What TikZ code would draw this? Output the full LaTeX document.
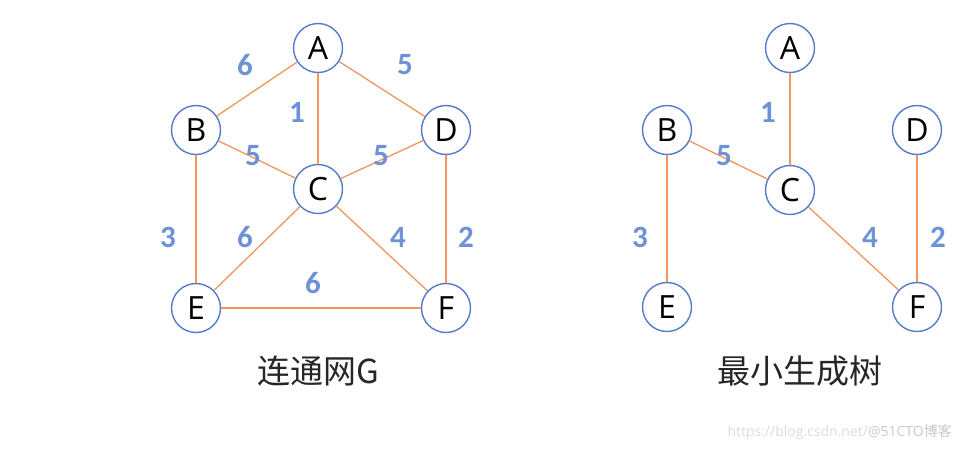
\documentclass[tikz,border=0pt]{standalone}
\usepackage{fontspec}
\setmainfont{Open Sans}
\newfontfamily\numfont{Carlito}
\newfontfamily\cjk{Noto Sans CJK SC}
\definecolor{nodeblue}{RGB}{84,124,204}
\definecolor{edgeorange}{RGB}{242,150,92}
\definecolor{numblue}{RGB}{110,146,214}
\definecolor{wmgray}{RGB}{220,220,220}
\definecolor{wmgray2}{RGB}{200,200,200}
\tikzset{
  vtx/.style={circle, draw=nodeblue, line width=1.4pt, fill=white, minimum size=49pt, inner sep=0pt, font=\fontsize{32}{32}\selectfont},
  edg/.style={draw=edgeorange, line width=1.3pt},
  wt/.style={font=\numfont\bfseries\fontsize{31}{31}\selectfont, text=numblue, inner sep=0pt},
  captxt/.style={font=\cjk\fontsize{33}{33}\selectfont, text=black!85, inner sep=0pt},
}
\begin{document}
\begin{tikzpicture}[x=1pt,y=-1pt]
\useasboundingbox (0,0) rectangle (964,451);
% left graph
\node[vtx] (A) at (318,48) {A};
\node[vtx] (B) at (196,130) {B};
\node[vtx] (D) at (446,130) {D};
\node[vtx] (C) at (318,189) {C};
\node[vtx] (E) at (196,308) {E};
\node[vtx] (F) at (446,308) {F};
\draw[edg] (A) -- (B);
\draw[edg] (A) -- (D);
\draw[edg] (A) -- (C);
\draw[edg] (B) -- (C);
\draw[edg] (D) -- (C);
\draw[edg] (B) -- (E);
\draw[edg] (D) -- (F);
\draw[edg] (C) -- (E);
\draw[edg] (C) -- (F);
\draw[edg] (E) -- (F);
\node[wt] (wAB) at (245,65) {6};
\node[wt] (wAD) at (405,65) {5};
\node[wt] (wAC) at (297,112) {1};
\node[wt] (wBC) at (253,156) {5};
\node[wt] (wDC) at (381,156) {5};
\node[wt] (wBE) at (168,237) {3};
\node[wt] (wCE) at (245,237) {6};
\node[wt] (wCF) at (398,237) {4};
\node[wt] (wDF) at (466,237) {2};
\node[wt] (wEF) at (313,283) {6};
\node[captxt] (capL) at (318,371) {连通网G};
% right graph
\node[vtx] (A2) at (790,48) {A};
\node[vtx] (B2) at (667,130) {B};
\node[vtx] (D2) at (917,130) {D};
\node[vtx] (C2) at (790,190) {C};
\node[vtx] (E2) at (667,307) {E};
\node[vtx] (F2) at (917,307) {F};
\draw[edg] (A2) -- (C2);
\draw[edg] (B2) -- (C2);
\draw[edg] (B2) -- (E2);
\draw[edg] (C2) -- (F2);
\draw[edg] (D2) -- (F2);
\node[wt] (wAC2) at (768,112) {1};
\node[wt] (wBC2) at (724,156) {5};
\node[wt] (wBE2) at (640,237) {3};
\node[wt] (wCF2) at (870,237) {4};
\node[wt] (wDF2) at (938,237) {2};
\node[captxt] (capR) at (800,371) {最小生成树};
% watermark
\node[anchor=east, inner sep=0pt, font=\fontsize{14}{14}\selectfont] (wm) at (952,432)
  {\textcolor{wmgray}{https://blog.csdn.net/}\textcolor{wmgray2}{@51CTO\cjk 博客}};
\end{tikzpicture}
\end{document}
